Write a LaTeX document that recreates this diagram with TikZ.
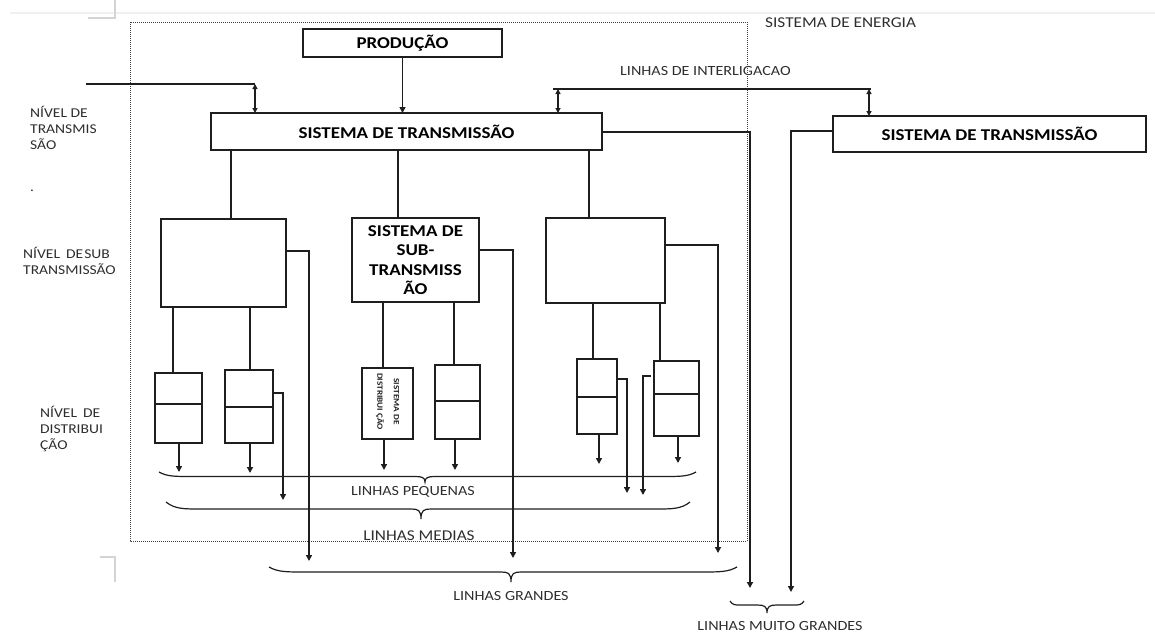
\documentclass[tikz,border=0pt]{standalone}
\usepackage{fontspec}
\setmainfont{Carlito}[FakeStretch=1.15]
\usetikzlibrary{arrows.meta}

\definecolor{ink}{HTML}{1E1E1E}
\definecolor{labelgray}{HTML}{2E2E2E}
\definecolor{pageline}{HTML}{D4D4D4}

\newcommand{\setfs}[2]{\fontsize{#1}{#2}\selectfont}

% horizontal curly brace: xL, xTip, xR, yEnds, yFlat, yTip, curl length
\newcommand{\drawbrace}[7]{%
  \draw[bracepath] (#1,#4) .. controls (#1+0.25*#7,#5) and (#1+0.5*#7,#5) .. (#1+#7,#5)
    -- (#2-10,#5) .. controls (#2-3,#5) and (#2,#5+1) .. (#2,#6)
    .. controls (#2,#5+1) and (#2+3,#5) .. (#2+10,#5)
    -- (#3-#7,#5) .. controls (#3-0.5*#7,#5) and (#3-0.25*#7,#5) .. (#3,#4);}

\tikzset{
  wire/.style={draw=ink, line width=1.5pt},
  arr/.style={wire, -{Triangle[length=6pt,width=6pt]}},
  darr/.style={wire, {Triangle[length=5pt,width=5pt]}-{Triangle[length=5pt,width=5pt]}},
  box/.style={draw=ink, line width=1.5pt, inner sep=0pt, outer sep=0pt,
    align=center, font=\setfs{16.5}{19.5}\bfseries},
  dbox/.style={draw=ink, line width=1.5pt, inner sep=0pt, outer sep=0pt},
  lvltext/.style={anchor=west, inner sep=0pt, align=left, text=labelgray,
    font=\setfs{13.5}{16}},
  linetext/.style={inner sep=0pt, text=labelgray, font=\setfs{14}{16}},
  sysframe/.style={draw=black!75, line width=0.9pt, dash pattern=on 1pt off 1pt},
  bracepath/.style={draw=ink, line width=1.2pt},
  pagecorner/.style={draw=pageline, line width=1.2pt},
}

\begin{document}
\begin{tikzpicture}[x=1pt,y=-1pt]
\useasboundingbox (0,0) rectangle (1155,632);

% page edge and margin corners
\draw[draw=black!6, line width=1.5pt] (10,13) -- (1155,13);
\draw[pagecorner] (88,18) -- (115,18) -- (115,0);
\draw[pagecorner] (100,557) -- (115,557) -- (115,582);

% boundary of the energy system
\draw[sysframe] (130,22) rectangle (747,541);
\node[linetext, anchor=west, font=\setfs{15}{17}] (energia) at (765,23) {SISTEMA DE ENERGIA};

% level labels
\node[lvltext] (lvlT) at (30,128) {NÍVEL DE\\TRANSMIS\\SÃO};
\node[lvltext] (dot) at (30,191) {.};
\node[lvltext] (lvlS) at (23,261) {NÍVEL\hspace{0.45em}DE\hspace{0.08em}SUB\\TRANSMISSÃO};
\node[lvltext] (lvlD) at (40,429) {NÍVEL\hspace{0.45em}DE\\DISTRIBUI\\ÇÃO};

% main boxes
\node[box, minimum width=199pt, minimum height=28pt] (prod) at (402.5,43) {PRODUÇÃO};
\node[box, minimum width=391pt, minimum height=37pt] (trans) at (406.5,131.5) {SISTEMA DE TRANSMISSÃO};
\node[box, minimum width=313pt, minimum height=36pt] (transB) at (989.5,134) {SISTEMA DE TRANSMISSÃO};

% sub-transmission boxes
\node[box, minimum width=125pt, minimum height=88pt] (subL) at (223.5,263) {};
\node[box, minimum width=127pt, minimum height=84pt] (subM) at (415.5,260) {SISTEMA DE\\SUB-\\TRANSMISS\\ÃO};
\node[box, minimum width=119pt, minimum height=85pt] (subR) at (605.5,260.5) {};

% distribution boxes
\node[dbox, minimum width=47pt, minimum height=70pt] (dA) at (178.5,408) {};
\node[dbox, minimum width=48pt, minimum height=73pt] (dB) at (249,406.5) {};
\node[dbox, minimum width=51pt, minimum height=71pt] (dC) at (387.5,403.5) {};
\node[dbox, minimum width=45pt, minimum height=74pt] (dD) at (457.5,402) {};
\node[dbox, minimum width=40pt, minimum height=75pt] (dE) at (597,396.5) {};
\node[dbox, minimum width=45pt, minimum height=75pt] (dF) at (676.5,398.5) {};
\node[rotate=-90, inner sep=0pt, align=center, font=\setfs{8}{16.5}\bfseries, text=ink]
  (dCtext) at ([yshift=2pt]dC.center) {SISTEMA DE\\DISTRIBUI ÇÃO};

% box dividers
\draw[wire] (dA.west |- 0,404) -- (dA.east |- 0,404);
\draw[wire] (dB.west |- 0,407) -- (dB.east |- 0,407);
\draw[wire] (dD.west |- 0,401) -- (dD.east |- 0,401);
\draw[wire] (dE.west |- 0,397) -- (dE.east |- 0,397);
\draw[wire] (dF.west |- 0,394) -- (dF.east |- 0,394);

% production feed and interconnection lines
\draw[arr] (prod.south) -- (prod.south |- trans.north);
\coordinate (feedL) at (86,84);
\coordinate (jL) at (255,84);
\draw[wire] (feedL) -- (jL);
\draw[darr] (jL) -- (jL |- trans.north);
\node[linetext, anchor=west] (interl) at (620,71) {LINHAS DE INTERLIGACAO};
\coordinate (ilA) at (553,89);
\coordinate (ilB) at (871,89);
\coordinate (ilP) at (558,89);
\coordinate (ilQ) at (869,89);
\draw[wire] (ilA) -- (ilB);
\draw[darr] (ilP) -- (ilP |- trans.north);
\draw[darr] (ilQ) -- (ilQ |- transB.north);

% transmission to sub-transmission
\draw[wire] (trans.south -| 231,0) -- (subL.north -| 231,0);
\draw[wire] (trans.south -| 398,0) -- (subM.north -| 398,0);
\draw[wire] (trans.south -| 589,0) -- (subR.north -| 589,0);

% sub-transmission to distribution
\draw[wire] (subL.south -| 173,0) -- (dA.north -| 173,0);
\draw[wire] (subL.south -| 250,0) -- (dB.north -| 250,0);
\draw[wire] (subM.south -| 383,0) -- (dC.north -| 383,0);
\draw[wire] (subM.south -| 454,0) -- (dD.north -| 454,0);
\draw[wire] (subR.south -| 593,0) -- (dE.north -| 593,0);
\draw[wire] (subR.south -| 660,0) -- (dF.north -| 660,0);

% line ends
\coordinate (endA) at (179,472);
\coordinate (endB) at (250,473);
\coordinate (endC) at (384,470);
\coordinate (endD) at (455,470);
\coordinate (endE) at (599,464);
\coordinate (endF) at (678,463);
\coordinate (endBm) at (283,500);
\coordinate (endEm) at (627,493);
\coordinate (endFm) at (643,495);
\coordinate (stubF) at (651,376);
\coordinate (endLg) at (309,561);
\coordinate (endMg) at (513,558);
\coordinate (endRg) at (718,553);
\coordinate (endT) at (750,588);
\coordinate (endTB) at (791,592);

% small lines
\draw[arr] (dA.south -| endA) -- (endA);
\draw[arr] (dB.south -| endB) -- (endB);
\draw[arr] (dC.south -| endC) -- (endC);
\draw[arr] (dD.south -| endD) -- (endD);
\draw[arr] (dE.south -| endE) -- (endE);
\draw[arr] (dF.south -| endF) -- (endF);

% medium lines
\draw[arr] (dB.east |- 0,393) -| (endBm);
\draw[arr] (dE.east |- 0,379) -| (endEm);
\draw[arr] (stubF) -| (endFm);

% large lines
\draw[arr] (subL.east |- 0,251) -| (endLg);
\draw[arr] (subM.east |- 0,250) -| (endMg);
\draw[arr] (subR.east |- 0,245) -| (endRg);

% very large lines
\draw[arr] (trans.east |- 0,132) -| (endT);
\draw[arr] (transB.west |- 0,131) -| (endTB);

% braces and their captions
\drawbrace{159}{425}{696}{472}{476.5}{482}{32}
\node[linetext] (pequenas) at (413,492) {LINHAS PEQUENAS};
\drawbrace{166}{421}{690}{502}{509}{519}{35}
\node[linetext, font=\setfs{15}{17}] (medias) at (419,536) {LINHAS MEDIAS};
\drawbrace{269}{511}{737}{567}{572}{582}{35}
\node[linetext] (grandes) at (511,596) {LINHAS GRANDES};
\drawbrace{730}{767}{804}{601}{605}{613}{10}
\node[linetext] (muito) at (780,626) {LINHAS MUITO GRANDES};

\end{tikzpicture}
\end{document}
